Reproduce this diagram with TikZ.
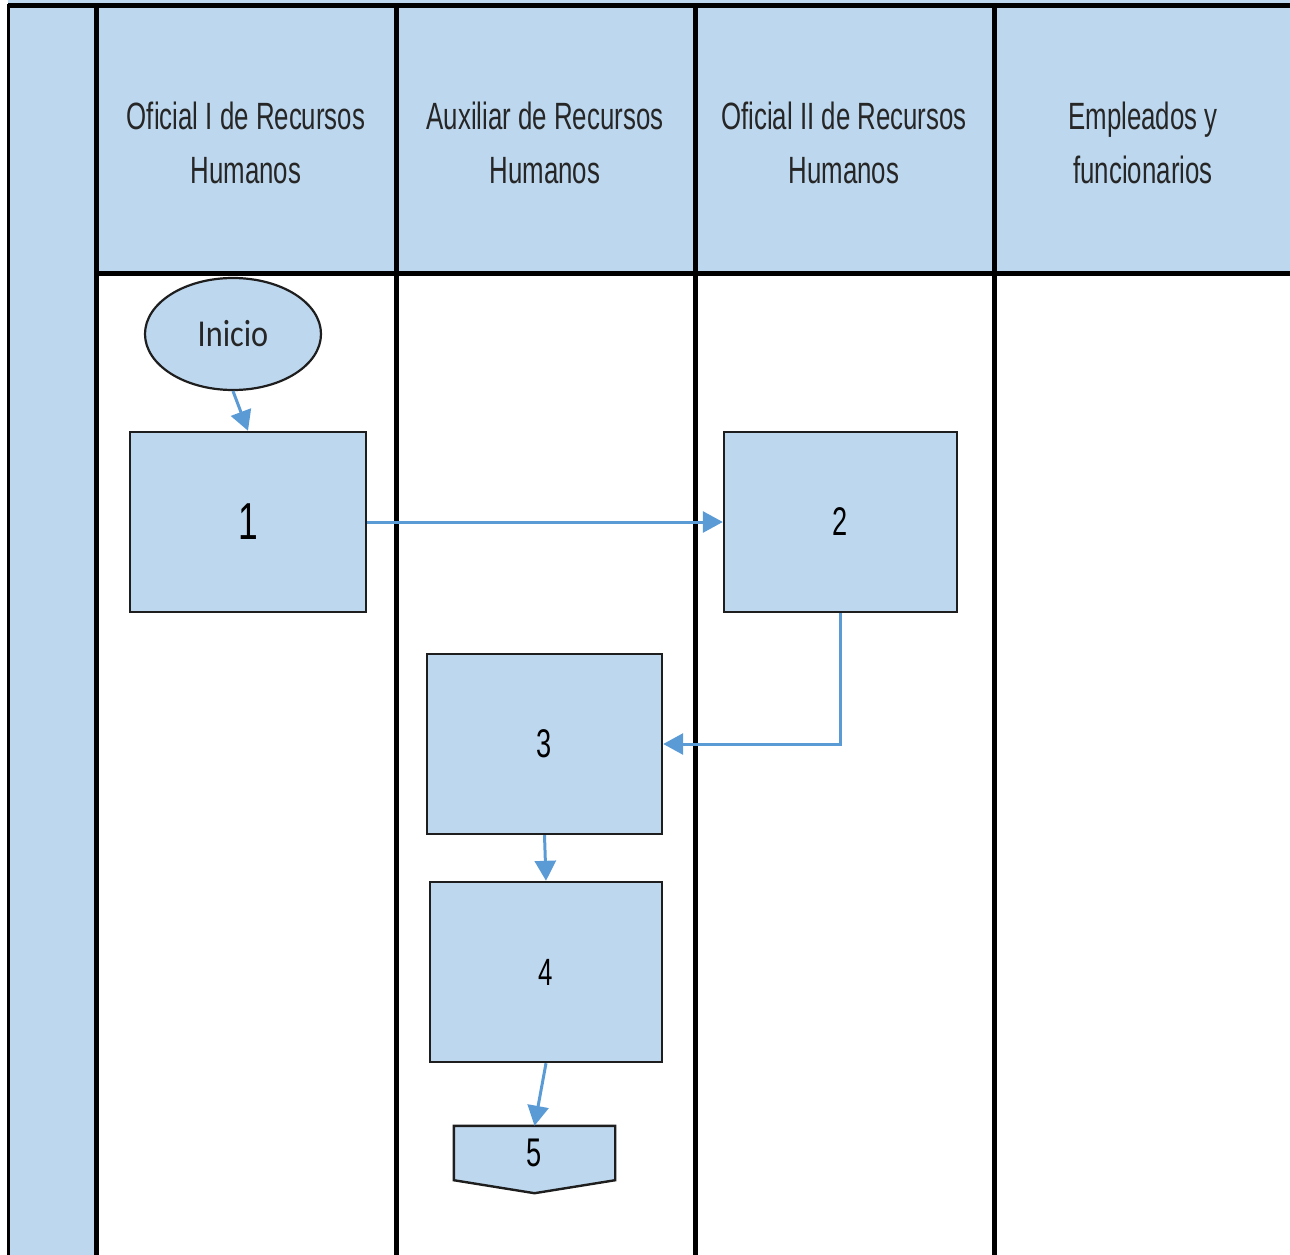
\documentclass[tikz,border=0pt]{standalone}
\usepackage{fontspec}
\usetikzlibrary{arrows.meta,shapes.geometric,backgrounds}
\newfontfamily\hdrfont[FakeStretch=0.68]{Liberation Sans}
\newfontfamily\inifont[FakeStretch=0.85]{Carlito}
\definecolor{paleblue}{HTML}{BDD7EE}
\definecolor{flowblue}{HTML}{5B9BD5}
\definecolor{edgegray}{HTML}{1E1E1E}
\tikzset{
  laneline/.style={line width=5pt,black},
  lanehead/.style={align=center,font=\hdrfont\fontsize{38}{54}\selectfont,text=black!85},
  procbox/.style={draw=edgegray,line width=2.4pt,fill=paleblue,rectangle,minimum width=#1,minimum height=180pt,inner sep=0pt,font=\hdrfont\fontsize{40}{48}\selectfont},
  startnode/.style={draw=edgegray,line width=2.2pt,fill=paleblue,ellipse,minimum width=176pt,minimum height=112pt,inner sep=0pt,font=\inifont\fontsize{38}{46}\selectfont,text=black!85},
  flow/.style={draw=flowblue,line width=3pt,-{Triangle[length=20pt,width=21pt]}}
}
\begin{document}
\begin{tikzpicture}[x=1pt,y=-1pt]
  \useasboundingbox (0,0) rectangle (1290,1255);
  % header band and left column
  \fill[paleblue] (8,0) rectangle (1290,273);
  \fill[paleblue] (8,0) rectangle (96.5,1255);
  % lane frame
  \draw[laneline] (8,5.5) -- (1290,5.5);
  \draw[laneline] (96.5,273) -- (1290,273);
  \draw[line width=3pt] (8.5,4) -- (8.5,1255);
  \foreach \x in {96.5,396,695,994} \draw[laneline] (\x,3) -- (\x,1255);
  % lane titles
  \node[lanehead] (h1) at (246,143) {Oficial I de Recursos\\Humanos};
  \node[lanehead] (h2) at (545,143) {Auxiliar de Recursos\\Humanos};
  \node[lanehead] (h3) at (844,143) {Oficial II de Recursos\\Humanos};
  \node[lanehead] (h4) at (1143,143) {Empleados y\\funcionarios};
  % flow nodes
  \node[startnode] (ini) at (233,334) {Inicio};
  \node[procbox=236pt,font=\hdrfont\fontsize{52}{60}\selectfont] (b1) at (248,522) {1};
  \node[procbox=233pt] (b2) at (840.5,522) {2};
  \node[procbox=235pt] (b3) at (544.5,744) {3};
  \node[procbox=232pt,font=\hdrfont\fontsize{38}{46}\selectfont] (b4) at (546,972) {4};
  \node[minimum width=161pt,minimum height=54pt,inner sep=0pt,font=\hdrfont\fontsize{40}{48}\selectfont] (n5) at (534.5,1153) {5};
  \begin{scope}[on background layer]
    \draw[draw=edgegray,line width=2.4pt,fill=paleblue,line join=miter]
      (n5.north west) -- (n5.north east) -- (n5.south east)
      -- ([yshift=-13pt]n5.south) -- (n5.south west) -- cycle;
  \end{scope}
  % connectors
  \draw[flow] (ini.south) -- (b1.north);
  \draw[flow] (b1.east) -- (b2.west);
  \draw[flow] (b2.south) |- (b3.east);
  \draw[flow] (b3.south) -- (b4.north);
  \draw[flow] (b4.south) -- (n5.north);
\end{tikzpicture}
\end{document}
